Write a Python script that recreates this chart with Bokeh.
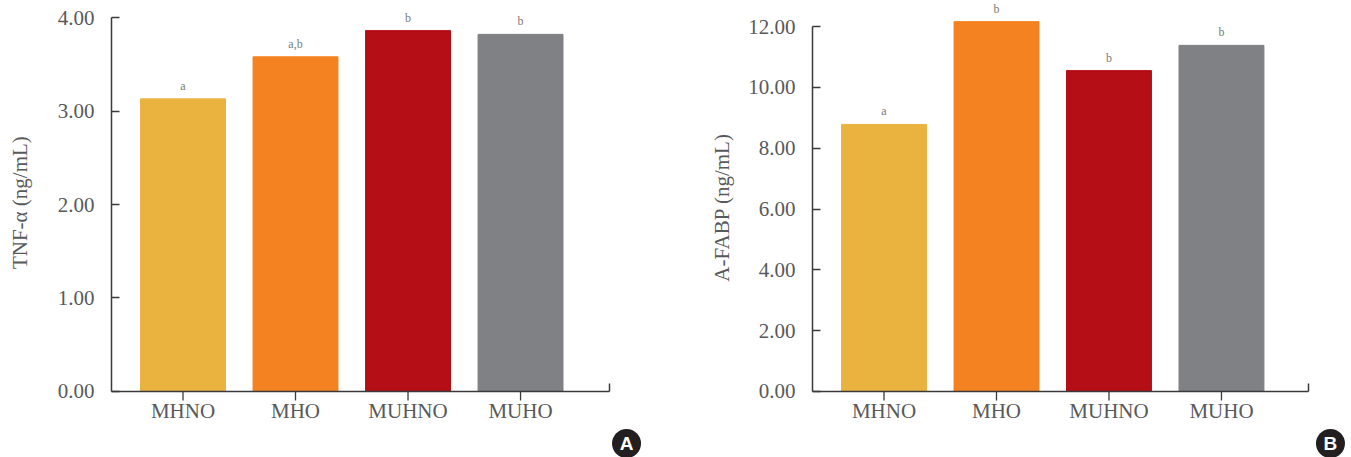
from math import pi
from bokeh.plotting import figure
from bokeh.layouts import row
from bokeh.models import FixedTicker, Range1d, ColumnDataSource
from bokeh.core.properties import value
from bokeh.embed import file_html
from bokeh.resources import INLINE

categories = ["MHNO", "MHO", "MUHNO", "MUHO"]
colors = ["#EAB33F", "#F58220", "#B50E16", "#808184"]
tnf_values = [3.13, 3.58, 3.86, 3.82]
tnf_letters = ["a", "a,b", "b", "b"]
fabp_values = [8.78, 12.16, 10.55, 11.38]
fabp_letters = ["a", "b", "b", "b"]
FONT = "Liberation Serif"
TEXT = "#58595B"
LINE = "#3a3a3c"


def panel(vals, letters, ylabel, yticks, xr, yr, xbounds, width, lab_xy, badge, badge_xy, tick_len):
    x = list(range(len(categories)))
    src = ColumnDataSource(dict(x=x, top=vals, color=colors, label=letters))
    p = figure(width=width, height=457, output_backend="svg", toolbar_location=None,
               x_range=Range1d(*xr), y_range=Range1d(*yr),
               min_border_left=0, min_border_right=0, min_border_top=0, min_border_bottom=0)
    p.outline_line_color = None
    p.grid.visible = False
    p.vbar(x="x", top="top", bottom=0, width=0.755, color="color", source=src)
    p.text(x="x", y="top", text="label", source=src, text_align="center", text_baseline="bottom",
           y_offset=-6, text_font=value(FONT), text_font_size="12px", text_color="#7a7a7c")

    # downward x ticks
    p.segment(x0=x, x1=x, y0=[0] * len(x), y1=[-tick_len] * len(x), line_color=LINE, line_width=1.3)

    ax = p.xaxis[0]
    ax.fixed_location = 0
    ax.bounds = xbounds
    ax.ticker = FixedTicker(ticks=x, minor_ticks=[xbounds[1]])
    ax.major_label_overrides = {i: c for i, c in zip(x, categories)}
    ax.major_tick_in = 0
    ax.major_tick_out = 9
    ax.minor_tick_in = 8
    ax.minor_tick_out = 0
    ax.major_tick_line_color = None
    ax.minor_tick_line_color = LINE
    ax.axis_line_color = LINE
    ax.axis_line_width = 1.5
    ax.minor_tick_line_width = 1.5
    ax.major_label_standoff = -1
    ax.major_label_text_font = FONT
    ax.major_label_text_font_size = "21px"
    ax.major_label_text_color = TEXT

    ay = p.yaxis[0]
    ay.fixed_location = xbounds[0]
    ay.ticker = FixedTicker(ticks=yticks)
    ay.major_label_overrides = {t: f"{t:.2f}" for t in yticks}
    ay.bounds = (0, yticks[-1])
    ay.major_tick_in = 8
    ay.major_tick_out = 0
    ay.minor_tick_line_color = None
    ay.major_tick_line_color = LINE
    ay.major_tick_line_width = 1.5
    ay.axis_line_color = LINE
    ay.axis_line_width = 1.5
    ay.major_label_standoff = 17
    ay.major_label_text_font = FONT
    ay.major_label_text_font_size = "21px"
    ay.major_label_text_color = TEXT

    p.text(x=[lab_xy[0]], y=[lab_xy[1]], text=[ylabel], angle=pi / 2, text_align="center",
           text_baseline="middle", text_font=value(FONT), text_font_size="21px", text_color=TEXT)

    p.scatter(x=[badge_xy[0]], y=[badge_xy[1]], size=29, color="#231F20", line_color=None)
    p.text(x=[badge_xy[0]], y=[badge_xy[1]], text=[badge], text_align="center", text_baseline="middle",
           text_color="white", text_font=value("Liberation Sans"), text_font_style="bold",
           text_font_size="19px")
    return p


pa = panel(tnf_values, tnf_letters, "TNF-α (ng/mL)", [0, 1, 2, 3, 4],
           (-1.622, 4.244), (-0.706, 4.182), (-0.636, 3.791), 660,
           (-1.453, 2.02), "A", (3.942, -0.556), 0.096)
pb = panel(fabp_values, fabp_letters, "A-FABP (ng/mL)", [0, 2, 4, 6, 8, 10, 12],
           (-1.987, 4.156), (-2.17, 12.855), (-0.636, 3.773), 691,
           (-1.436, 6.05), "B", (3.969, -1.71), 0.296)
layout = row(pa, pb)
open("out.html", "w").write(file_html(layout, INLINE))
